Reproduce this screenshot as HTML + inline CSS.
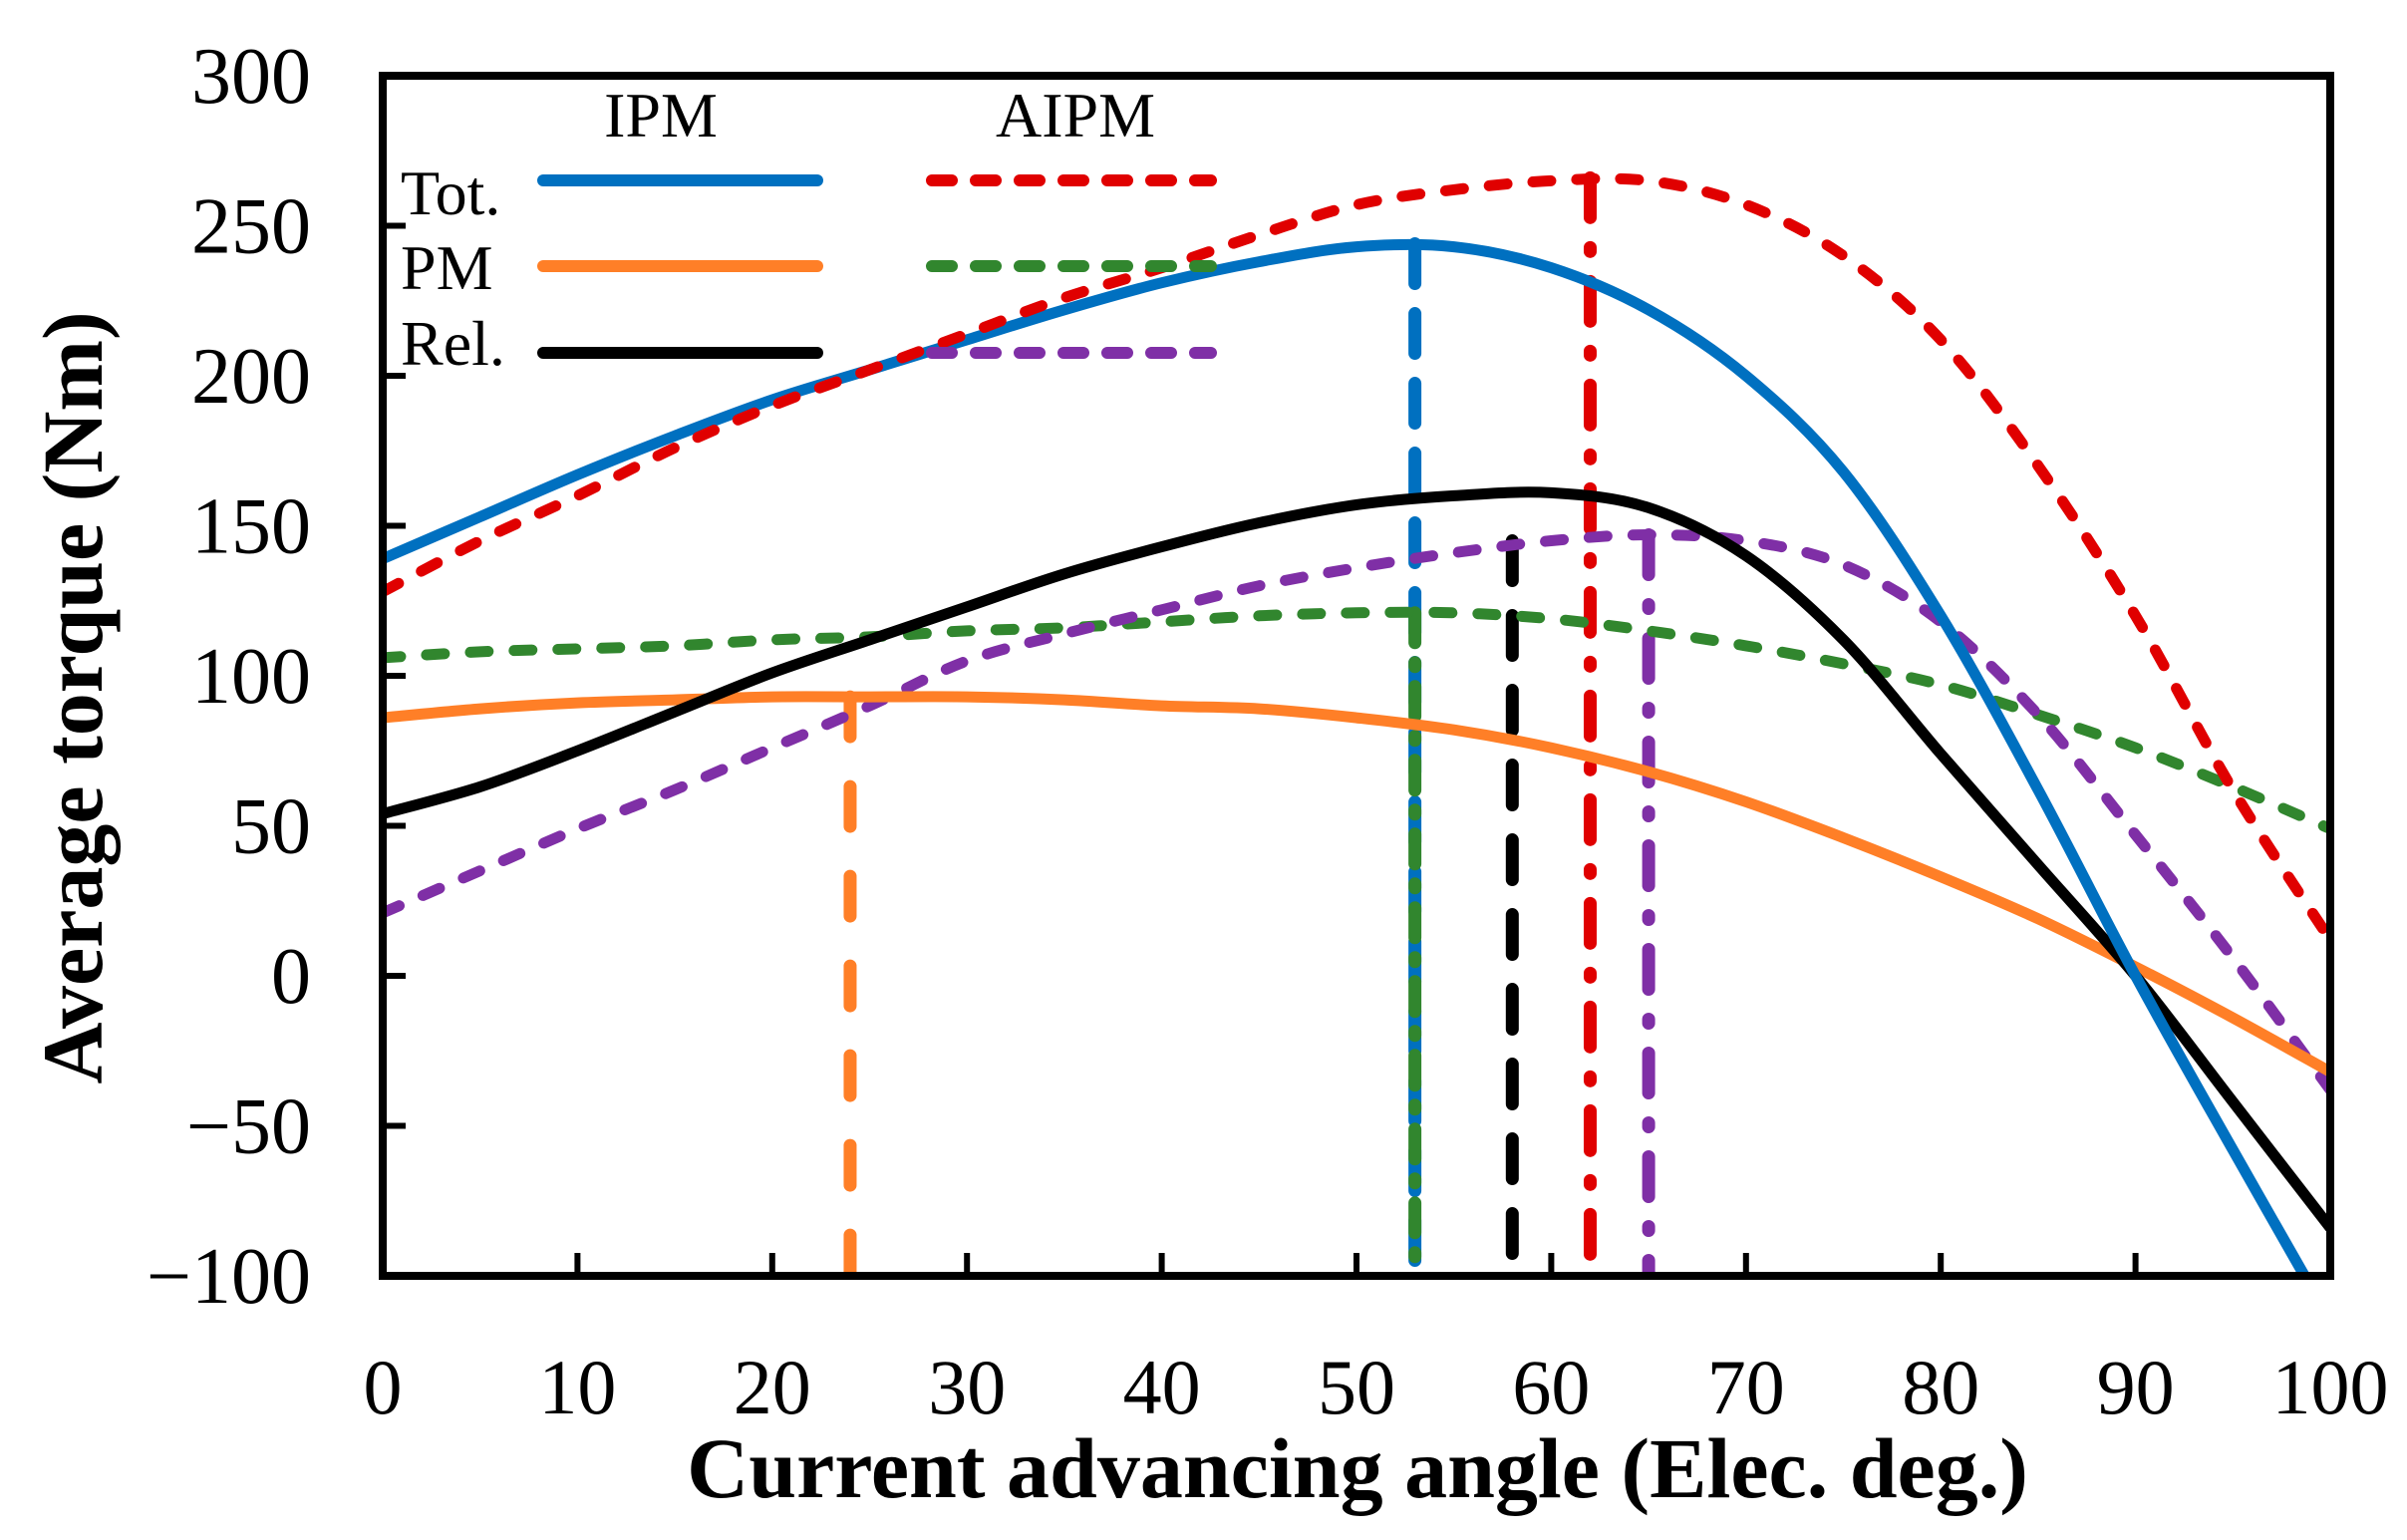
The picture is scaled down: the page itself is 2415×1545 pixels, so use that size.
<!DOCTYPE html>
<html><head><meta charset="utf-8"><style>
html,body{margin:0;padding:0;background:#fff}
svg{display:block}
text{font-family:"Liberation Serif",serif;fill:#000}
</style></head><body>
<svg id="chart" width="2415" height="1545" viewBox="0 0 2415 1545" xmlns="http://www.w3.org/2000/svg">
<defs><clipPath id="pc"><rect x="384" y="76" width="1954" height="1204"/></clipPath></defs>
<g id="marks" clip-path="url(#pc)"></g>
<g id="axes"></g>
<text x="1362" y="1502" text-anchor="middle" font-size="86" font-weight="bold">Current advancing angle (Elec. deg.)</text>
<text transform="translate(102,700) rotate(-90)" text-anchor="middle" font-size="86" font-weight="bold">Average torque (Nm)</text>
<g id="legend">
<text x="663" y="137" text-anchor="middle" font-size="64">IPM</text>
<text x="1079" y="137" text-anchor="middle" font-size="64">AIPM</text>
<text x="402" y="215" font-size="64">Tot.</text>
<text x="402" y="290" font-size="64">PM</text>
<text x="402" y="366" font-size="64">Rel.</text>
<line x1="545" y1="181" x2="820" y2="181" stroke="#0070C0" stroke-width="12" stroke-linecap="round"/>
<line x1="545" y1="267" x2="820" y2="267" stroke="#FF7F27" stroke-width="12" stroke-linecap="round"/>
<line x1="545" y1="354" x2="820" y2="354" stroke="#000" stroke-width="12" stroke-linecap="round"/>
<line x1="935" y1="181" x2="1215" y2="181" stroke="#E00000" stroke-width="12" stroke-dasharray="20 24" stroke-linecap="round"/>
<line x1="935" y1="267" x2="1215" y2="267" stroke="#31862E" stroke-width="12" stroke-dasharray="20 24" stroke-linecap="round"/>
<line x1="935" y1="354" x2="1215" y2="354" stroke="#7F2FA6" stroke-width="12" stroke-dasharray="20 24" stroke-linecap="round"/>
</g>
</svg>
<script>
const xTicks=[0,10,20,30,40,50,60,70,80,90,100];
const yTicks=[-100,-50,0,50,100,150,200,250,300];
const yTickLabels=["\u2212100","\u221250","0","50","100","150","200","250","300"];
const angles=[0,5,10,15,20,25,30,35,40,45,50,55,60,65,70,75,80,85,90,95,100];
const ipmTot=[139,153,167,180,192,202,212,222,231,238,243,243,236,222,200,168,120,62,0,-58,-115];
const ipmPM=[86,89,91,92,93,93,93,92,90,89,86,82,76,68,58,46,33,19,3,-14,-32];
const ipmRel=[54,63,75,88,101,112,123,134,143,151,157,160,161,156,140,112,74,37,0,-42,-84];
const aipmTot=[128,145,160,176,190,202,214,226,236,247,257,262,265,265,257,240,212,170,120,62,12];
const aipmPM=[106,108,109,110,112,113,115,116,118,120,121,121,119,115,110,104,97,87,76,63,49];
const aipmRel=[21,35,49,62,76,90,105,114,122,130,136,141,145,147,145,137,118,87,47,6,-38];
const markerX=[24,53,53,58,62,65];
const markerTop=[93,244,121,145,266,147];
const markerColors=["#FF7F27","#0070C0","#31862E","#000","#E00000","#7F2FA6"];
const markerDash=["40 50","40 30","30 20 4 20","40 35","40 30 4 30","40 30 4 30"];
const markerNames=["marker-ipm-pm","marker-ipm-tot","marker-aipm-pm","marker-ipm-rel","marker-aipm-tot","marker-aipm-rel"];

const X0=384,X1=2338,Y0=1280,Y1=76;
const sx=v=>X0+(v-0)/100*(X1-X0);
const sy=v=>Y0-(v+100)/400*(Y0-Y1);
const NS="http://www.w3.org/2000/svg";
const marks=document.getElementById('marks'),axes=document.getElementById('axes');
function mk(tag,attrs,parent){const e=document.createElementNS(NS,tag);for(const k in attrs)e.setAttribute(k,attrs[k]);parent.appendChild(e);return e;}

markerX.forEach((m,i)=>{
  const l=mk('line',{x1:sx(m),x2:sx(m),y1:sy(markerTop[i]),y2:sy(-100),stroke:markerColors[i],'stroke-width':13,'stroke-dasharray':markerDash[i],'stroke-linecap':'round'},marks);
  
  
});

function smooth(pts){
  let d='M'+pts[0][0].toFixed(1)+','+pts[0][1].toFixed(1);
  for(let i=0;i<pts.length-1;i++){
    const p0=pts[Math.max(0,i-1)],p1=pts[i],p2=pts[i+1],p3=pts[Math.min(pts.length-1,i+2)];
    const c1=[p1[0]+(p2[0]-p0[0])/6,p1[1]+(p2[1]-p0[1])/6];
    const c2=[p2[0]-(p3[0]-p1[0])/6,p2[1]-(p3[1]-p1[1])/6];
    d+=' C'+c1[0].toFixed(1)+','+c1[1].toFixed(1)+' '+c2[0].toFixed(1)+','+c2[1].toFixed(1)+' '+p2[0].toFixed(1)+','+p2[1].toFixed(1);
  }
  return d;
}
function series(vals,color,dash,name){
  const pts=vals.map((v,i)=>[sx(angles[i]),sy(v)]);
  const p=mk('path',{d:smooth(pts),fill:'none',stroke:color,'stroke-width':11,'stroke-linejoin':'round'},marks);
  if(dash){p.setAttribute('stroke-dasharray',dash);p.setAttribute('stroke-linecap','round');}
  
  
}
series(aipmPM,'#31862E','18 26','line-aipm-pm');
series(aipmRel,'#7F2FA6','18 26','line-aipm-rel');
series(ipmPM,'#FF7F27',null,'line-ipm-pm');
series(ipmRel,'#000',null,'line-ipm-rel');
series(ipmTot,'#0070C0',null,'line-ipm-tot');
series(aipmTot,'#E00000','18 26','line-aipm-tot');

const frame=mk('rect',{x:X0,y:Y1,width:X1-X0,height:Y0-Y1,fill:'none',stroke:'#000','stroke-width':8},axes);


xTicks.forEach(t=>{
  const l=mk('line',{x1:sx(t),x2:sx(t),y1:Y0,y2:Y0-23,stroke:'#000','stroke-width':6},axes);
  
  
  const tx=mk('text',{x:sx(t),y:1418,'text-anchor':'middle','font-size':78},axes);
  tx.textContent=t;
  
  
});
yTicks.forEach((t,i)=>{
  const l=mk('line',{x1:X0,x2:X0+23,y1:sy(t),y2:sy(t),stroke:'#000','stroke-width':6},axes);
  
  
  const tx=mk('text',{x:312,y:sy(t)+27,'text-anchor':'end','font-size':80},axes);
  tx.textContent=yTickLabels[i];
  
  
});
</script>
</body></html>
